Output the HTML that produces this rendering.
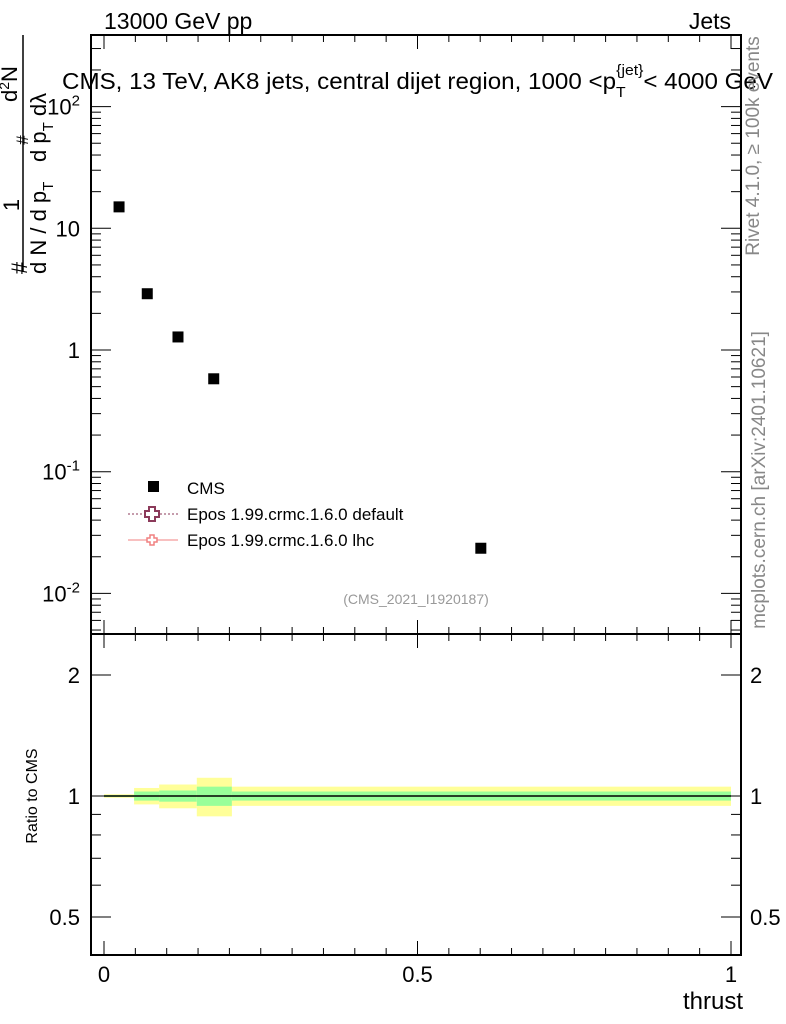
<!DOCTYPE html>
<html><head><meta charset="utf-8"><style>
body{margin:0;background:#fff;}
svg{display:block;font-family:"Liberation Sans",sans-serif;}
</style></head><body>
<svg id="c" width="786" height="1024" viewBox="0 0 786 1024"></svg>
<script>
const xEdges=[0,0.048,0.088,0.148,0.204,1.0];
const xPoints=[0.024,0.069,0.118,0.175,0.601];
const cmsValues=[15,2.9,1.28,0.58,0.0235];
const statErr=[0.005,0.026,0.032,0.055,0.026];
const totErr=[0.01,0.047,0.068,0.11,0.055];
const xTicks=[0,0.5,1];
const xTickLabels=["0","0.5","1"];
const yDecades=[-2,-1,0,1,2];
const yTickLabels=["10^-2","10^-1","1","10","10^2"];
const rTicks=[0.5,1,2];
const rTickLabels=["0.5","1","2"];

const NS="http://www.w3.org/2000/svg";
const svg=document.getElementById('c');
const L=91,R=741,T=35,M=634,B=955;
const X=v=>104+v*627;
const Y=v=>350-Math.log10(v)*121.7;
const YR=v=>796-Math.log2(v)*121;
function mk(tag,at,parent){const e=document.createElementNS(NS,tag);for(const k in at)e.setAttribute(k,at[k]);(parent||svg).appendChild(e);return e;}
function txt(s,x,y,size,at){const e=mk('text',Object.assign({x:x,y:y,'font-size':size},at||{}));e.textContent=s;return e;}

const bands=mk('g',{});


for(let i=0;i<cmsValues.length;i++){
  const x0=X(xEdges[i]),x1=X(xEdges[i+1]);
  const y=mk('rect',{x:x0,y:YR(1+totErr[i]),width:x1-x0,height:YR(1-totErr[i])-YR(1+totErr[i]),fill:'#ffff99'},bands);
  
  
  const g=mk('rect',{x:x0,y:YR(1+statErr[i]),width:x1-x0,height:YR(1-statErr[i])-YR(1+statErr[i]),fill:'#99ff99'},bands);
  
  
}
const rl=mk('line',{x1:X(0),x2:X(1),y1:YR(1),y2:YR(1),stroke:'#000','stroke-width':1.5});



const f1=mk('rect',{x:L,y:T,width:R-L,height:M-T,fill:'none',stroke:'#000','stroke-width':2});

const f2=mk('rect',{x:L,y:M,width:R-L,height:B-M,fill:'none',stroke:'#000','stroke-width':2});


for(let v=0;v<=1.0001;v+=0.05){
  const major=Math.abs(v*2-Math.round(v*2))<1e-6;
  const len=major?14:7;
  for(const [yb,yt] of [[M,T],[B,M]]){
    mk('line',{x1:X(v),x2:X(v),y1:yb,y2:yb-len,stroke:'#000'});
    mk('line',{x1:X(v),x2:X(v),y1:yt,y2:yt+len,stroke:'#000'});
  }
}
xTicks.forEach((v,i)=>{const t=txt(xTickLabels[i],X(v),982,22,{'text-anchor':'middle'});});
const xt=txt('thrust',743,1009,24,{'text-anchor':'end'});


for(let d=-3;d<=2;d++){
  for(let m=1;m<10;m++){
    const v=m*Math.pow(10,d),y=Y(v);
    if(y<T||y>M)continue;
    const len=m==1?20:10;
    mk('line',{x1:L,x2:L+len,y1:y,y2:y,stroke:'#000'});
    mk('line',{x1:R,x2:R-len,y1:y,y2:y,stroke:'#000'});
  }
}
yDecades.forEach((d,i)=>{
  const y=Y(Math.pow(10,d))+8;const lab=yTickLabels[i];
  let t;
  if(lab.includes('^')){const [b,e]=lab.split('^');t=txt(b,66,y,22,{'text-anchor':'end'});const s=mk('tspan',{dy:-9,'font-size':15},t);s.textContent=e;t.setAttribute('x',80);t.setAttribute('text-anchor','end');}
  else t=txt(lab,80,y,22,{'text-anchor':'end'});
  
});

[0.5,0.6,0.7,0.8,0.9,1,2].forEach(v=>{
  const major=rTicks.includes(v);const len=major?20:10;const y=YR(v);
  mk('line',{x1:L,x2:L+len,y1:y,y2:y,stroke:'#000'});
  mk('line',{x1:R,x2:R-len,y1:y,y2:y,stroke:'#000'});
});
rTicks.forEach((v,i)=>{
  const a=txt(rTickLabels[i],80,YR(v)+8,22,{'text-anchor':'end'});
  const b=txt(rTickLabels[i],750,YR(v)+8,22);
});

cmsValues.forEach((v,i)=>{
  const p=mk('rect',{x:X(xPoints[i])-5.5,y:Y(v)-5.5,width:11,height:11,fill:'#000'});
  
  
});

svg.insertAdjacentHTML('beforeend',`
<text x="104" y="29" font-size="23">13000 GeV pp</text>
<text x="731" y="29" font-size="23" text-anchor="end">Jets</text>
<text x="62" y="89" font-size="23" textLength="711" lengthAdjust="spacingAndGlyphs">CMS, 13 TeV, AK8 jets, central dijet region, 1000 &lt;p<tspan font-size="15" dy="8">T</tspan><tspan font-size="15" dy="-22" dx="-9">{jet}</tspan><tspan dy="14">&lt; 4000 GeV</tspan></text>
<g font-size="22">
<text transform="translate(27,268) rotate(-90)" text-anchor="middle">#</text>
<text transform="translate(19,205) rotate(-90)" text-anchor="middle">1</text>
<line x1="23" x2="23" y1="35" y2="272" stroke="#000" stroke-width="1.5"/>
<text transform="translate(46,274) rotate(-90)">d N / d p<tspan font-size="15" dy="7">T</tspan></text>
<text transform="translate(28,140) rotate(-90)" text-anchor="middle" font-size="17">#</text>
<text transform="translate(17,102) rotate(-90)">d<tspan font-size="14" dy="-8">2</tspan><tspan dy="8">N</tspan></text>
<text transform="translate(46,162) rotate(-90)">d p<tspan font-size="15" dy="7">T</tspan><tspan dy="-7">  d&#955;</tspan></text>
</g>
<text transform="translate(37,796) rotate(-90)" font-size="16" text-anchor="middle">Ratio to CMS</text>
<text transform="translate(759,146) rotate(-90)" font-size="19" fill="#888" text-anchor="middle">Rivet 4.1.0, &#8805; 100k events</text>
<text transform="translate(765,480) rotate(-90)" font-size="19" fill="#888" text-anchor="middle">mcplots.cern.ch [arXiv:2401.10621]</text>
<text x="416" y="604" font-size="14" fill="#999" text-anchor="middle">(CMS_2021_I1920187)</text>
<g>
<rect x="148" y="481" width="11" height="11" fill="#000"/>
<text x="187" y="494" font-size="17">CMS</text>
<line x1="128" x2="178" y1="514" y2="514" stroke="#8b3a5a" stroke-dasharray="2,2"/>
<path d="M149 507h6v4h4v6h-4v4h-6v-4h-4v-6h4z" fill="#fff" stroke="#8b3a5a" stroke-width="2"/>
<text x="187" y="520" font-size="17">Epos 1.99.crmc.1.6.0 default</text>
<line x1="128" x2="178" y1="540" y2="540" stroke="#f08080"/>
<path d="M150 535h4v3h3v4h-3v3h-4v-3h-3v-4h3z" fill="#fff" stroke="#f08080" stroke-width="1.5"/>
<text x="187" y="546" font-size="17">Epos 1.99.crmc.1.6.0 lhc</text>
</g>`);
</script>
</body></html>
